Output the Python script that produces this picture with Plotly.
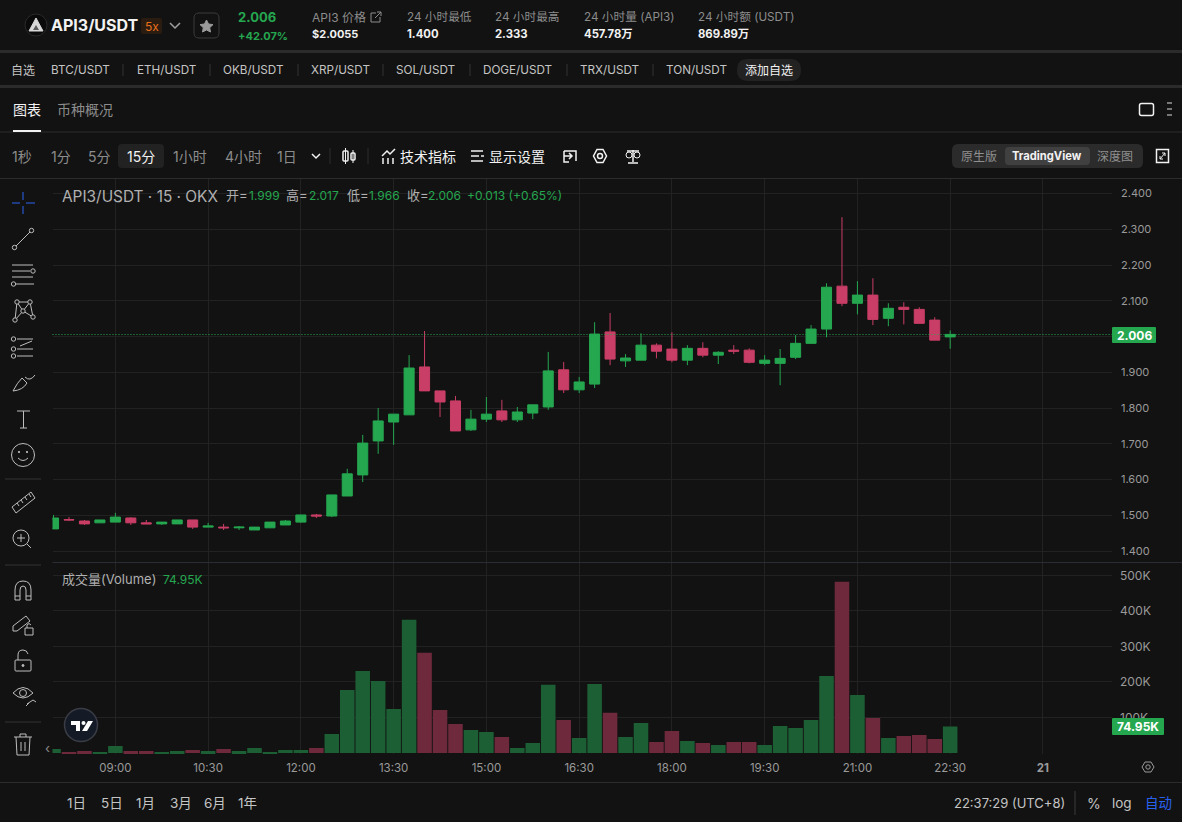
# -*- coding: utf-8 -*-
import pandas as pd
import plotly.graph_objects as go
import plotly.subplots as sp

# --- data ---
times = pd.date_range("2025-01-20 08:00", periods=59, freq="15min")
open_ = [1.462, 1.488, 1.484, 1.479, 1.481, 1.4925, 1.479, 1.476, 1.476, 1.487,
         1.467, 1.467, 1.465, 1.459, 1.465, 1.473, 1.481, 1.501, 1.498, 1.554,
         1.613, 1.708, 1.761, 1.781, 1.915, 1.848, 1.820, 1.739, 1.769, 1.792,
         1.767, 1.786, 1.803, 1.907, 1.851, 1.867, 2.013, 1.932, 1.934, 1.976,
         1.965, 1.934, 1.967, 1.948, 1.962, 1.962, 1.925, 1.925, 1.942, 1.981,
         2.021, 2.141, 2.093, 2.116, 2.051, 2.082, 2.076, 2.046, 1.999]
high = [1.501, 1.495, 1.487, 1.487, 1.507, 1.495, 1.487, 1.481, 1.487, 1.487,
        1.479, 1.476, 1.470, 1.467, 1.481, 1.487, 1.501, 1.504, 1.557, 1.630,
        1.725, 1.800, 1.783, 1.948, 2.0155, 1.848, 1.834, 1.795, 1.831, 1.823,
        1.803, 1.809, 1.957, 1.929, 1.887, 2.040, 2.066, 1.951, 2.009, 1.981,
        2.012, 1.976, 1.984, 1.959, 1.976, 1.967, 1.948, 1.965, 2.004, 2.032,
        2.149, 2.334, 2.155, 2.163, 2.093, 2.096, 2.082, 2.054, 2.017]
low = [1.462, 1.484, 1.473, 1.479, 1.481, 1.473, 1.476, 1.473, 1.476, 1.462,
       1.467, 1.459, 1.459, 1.459, 1.465, 1.473, 1.479, 1.4925, 1.495, 1.554,
       1.593, 1.672, 1.697, 1.781, 1.848, 1.775, 1.736, 1.736, 1.761, 1.761,
       1.761, 1.769, 1.795, 1.842, 1.842, 1.856, 1.920, 1.915, 1.934, 1.939,
       1.928, 1.920, 1.942, 1.923, 1.951, 1.925, 1.920, 1.864, 1.937, 1.981,
       1.998, 2.085, 2.062, 2.032, 2.029, 2.034, 2.037, 1.990, 1.966]
close = [1.4925, 1.487, 1.476, 1.487, 1.495, 1.479, 1.476, 1.481, 1.487, 1.467,
         1.470, 1.465, 1.467, 1.467, 1.481, 1.484, 1.501, 1.498, 1.557, 1.616,
         1.702, 1.764, 1.783, 1.912, 1.848, 1.817, 1.736, 1.769, 1.783, 1.767,
         1.789, 1.809, 1.904, 1.851, 1.873, 2.007, 1.937, 1.940, 1.976, 1.959,
         1.934, 1.967, 1.948, 1.956, 1.959, 1.928, 1.934, 1.939, 1.981, 2.021,
         2.138, 2.093, 2.116, 2.048, 2.079, 2.076, 2.037, 1.990, 2.006]
volume = [11, 3, 5.6, 3, 20, 5.6, 5.6, 3, 5.6, 8.5,
          5.6, 11, 5.6, 14, 3, 8.5, 8.5, 14, 53.5, 177.5,
          231, 203, 124, 375, 282, 121, 82, 65, 59, 45,
          14, 28, 192, 93, 42, 194.4, 113, 45, 84.5, 31,
          62, 34, 28, 22.6, 31, 31, 22.6, 76, 70.4, 93,
          217, 482, 163.4, 98.6, 42, 48, 51, 39.5, 74.95]

price_ticks = [1.4, 1.5, 1.6, 1.7, 1.8, 1.9, 2.0, 2.1, 2.2, 2.3, 2.4]
vol_ticks = [100, 200, 300, 400, 500]
vol_labels = ["100K", "200K", "300K", "400K", "500K"]
time_ticks = ["2025-01-20 09:00", "2025-01-20 10:30", "2025-01-20 12:00", "2025-01-20 13:30",
              "2025-01-20 15:00", "2025-01-20 16:30", "2025-01-20 18:00", "2025-01-20 19:30",
              "2025-01-20 21:00", "2025-01-20 22:30", "2025-01-21 00:00"]
time_labels = ["09:00", "10:30", "12:00", "13:30", "15:00", "16:30", "18:00", "19:30",
               "21:00", "22:30", "<b>21</b>"]

# colours
bg = "#121212"
grid = "#222222"
up = "#25a750"
down = "#c93e66"
vol_up = "#1c5f34"
vol_down = "#6e293c"
grey = "#8c8c8c"
light = "#c4c4c4"
white = "#f2f2f2"
icon = "#bdbdbd"
blue = "#2a62f0"
band = "#2b2b2b"
font_family = "Inter, 'Noto Sans CJK SC', sans-serif"

W, H = 1182, 822
PLOT_L, PLOT_R = 52.5, 1112
PRICE_TOP, PRICE_BOTTOM = 179, 562
VOL_TOP, VOL_BOTTOM = 563, 754

fig = sp.make_subplots(rows=2, cols=1, shared_xaxes=True)

fig.add_trace(
    go.Candlestick(
        x=times, open=open_, high=high, low=low, close=close,
        increasing=dict(line=dict(color=up, width=1), fillcolor=up),
        decreasing=dict(line=dict(color=down, width=1), fillcolor=down),
        whiskerwidth=0,
        showlegend=False,
    ),
    row=1, col=1,
)
fig.add_trace(
    go.Bar(
        x=times, y=volume,
        marker_color=[vol_up if c >= o else vol_down for o, c in zip(open_, close)],
        marker_line_width=0,
        showlegend=False,
    ),
    row=2, col=1,
)
# full page axis for the app chrome, in screenshot pixels
fig.add_trace(go.Scatter(x=[0], y=[0], mode="none", xaxis="x3", yaxis="y3",
                         showlegend=False, hoverinfo="skip"))

x_range = ["2025-01-20 07:59:00", "2025-01-21 01:07:00"]
for r in (1, 2):
    fig.update_xaxes(
        range=x_range, tickvals=time_ticks, ticktext=time_labels,
        showgrid=True, gridcolor=grid, gridwidth=1, zeroline=False, showline=False,
        ticks="", rangeslider_visible=False, fixedrange=True,
        domain=[PLOT_L / W, PLOT_R / W],
        tickfont=dict(size=11.5, color="#9a9a9a"), ticklabelstandoff=5,
        showticklabels=(r == 2),
        row=r, col=1,
    )

fig.update_yaxes(
    side="right", range=[1.3694, 2.4407], tickvals=price_ticks, tickformat=".3f",
    showgrid=True, gridcolor=grid, zeroline=False, ticks="", fixedrange=True,
    domain=[1 - PRICE_BOTTOM / H, 1 - PRICE_TOP / H],
    tickfont=dict(size=11, color="#9a9a9a"), ticklabelstandoff=8,
    row=1, col=1,
)
fig.update_yaxes(
    side="right", range=[-2.8, 535], tickvals=vol_ticks, ticktext=vol_labels,
    showgrid=True, gridcolor=grid, zeroline=False, ticks="", fixedrange=True,
    domain=[1 - VOL_BOTTOM / H, 1 - VOL_TOP / H],
    tickfont=dict(size=12, color="#9a9a9a"), ticklabelstandoff=7,
    row=2, col=1,
)

fig.update_layout(
    width=W, height=H,
    margin=dict(l=0, r=0, t=0, b=0),
    paper_bgcolor=bg, plot_bgcolor="rgba(0,0,0,0)",
    font=dict(family=font_family, size=12, color=grey),
    bargap=0.06, boxgap=0.35, boxgroupgap=0,
    hovermode=False, showlegend=False,
    xaxis3=dict(domain=[0, 1], range=[0, W], visible=False, fixedrange=True, anchor="y3"),
    yaxis3=dict(domain=[0, 1], range=[H, 0], visible=False, fixedrange=True, anchor="x3"),
)


# --- chrome helpers ---
def txt(x, y, text, size=12, color=grey, anchor="left", bold=False):
    fig.add_annotation(
        x=x - 1 if anchor == "left" else x, y=y, xref="x3", yref="y3",
        text=f"<b>{text}</b>" if bold else text,
        showarrow=False, xanchor=anchor, yanchor="middle", borderpad=0,
        font=dict(size=size, color=color, family=font_family),
    )


def line(x0, y0, x1, y1, color=icon, width=1, dash=None):
    fig.add_shape(type="line", x0=x0, y0=y0, x1=x1, y1=y1, xref="x3", yref="y3",
                  line=dict(color=color, width=width, dash=dash))


def rect(x0, y0, x1, y1, fill=None, color=None, width=1, r=0):
    d = (f"M{x0 + r},{y0} L{x1 - r},{y0} Q{x1},{y0} {x1},{y0 + r} L{x1},{y1 - r} Q{x1},{y1} {x1 - r},{y1} "
         f"L{x0 + r},{y1} Q{x0},{y1} {x0},{y1 - r} L{x0},{y0 + r} Q{x0},{y0} {x0 + r},{y0} Z")
    fig.add_shape(type="path", path=d, xref="x3", yref="y3", fillcolor=fill or "rgba(0,0,0,0)",
                  line=dict(color=color or "rgba(0,0,0,0)", width=width if color else 0))


def circ(cx, cy, r, color=icon, fill=None, width=1):
    fig.add_shape(type="circle", x0=cx - r, y0=cy - r, x1=cx + r, y1=cy + r, xref="x3", yref="y3",
                  fillcolor=fill or "rgba(0,0,0,0)", line=dict(color=color, width=width))


def path(d, color=icon, width=1, fill=None):
    fig.add_shape(type="path", path=d, xref="x3", yref="y3", fillcolor=fill or "rgba(0,0,0,0)",
                  line=dict(color=color, width=width))


# --- top bar ---
circ(36, 25, 11, color="#2a2a2a", fill="#0a0a0a")
path("M36,18 L43,31 L29,31 Z", color="#d8d8d8", fill="#d8d8d8")
path("M36,25 L39,30 L33,30 Z", color="#5a5a5a", fill="#5a5a5a", width=0)
txt(51, 25, "API3/USDT", size=16, color=white, bold=True)
rect(141, 18, 162, 34, fill="#2a1c10", r=2)
txt(151.5, 26, "5x", size=12, color="#e8701a", anchor="center")
path("M170,23 L175,28 L180,23", color="#a0a0a0", width=1.5)
rect(194, 13, 219, 38, color="#3a3a3a", r=5)
path("M206.5,20 L208.5,24 L213,24.6 L209.7,27.7 L210.5,32 L206.5,30 L202.5,32 L203.3,27.7 L200,24.6 L204.5,24 Z",
     color="#9a9a9a", fill="#9a9a9a")
txt(238, 17, "2.006", size=13, color=up, bold=True)
txt(238, 36, "+42.07%", size=11, color=up, bold=True)
txt(312, 17, "API3 价格", size=12, color=grey)
path("M376,13 L371,13 L371,22 L380,22 L380,17 M375,18 L381,12 M377,12 L381,12 L381,16", color=grey)
txt(312, 34, "$2.0055", size=11, color=white, bold=True)
for x, head, val in [(407, "24 小时最低", "1.400"), (495, "24 小时最高", "2.333"),
                     (584, "24 小时量 (API3)", "457.78万"), (698, "24 小时额 (USDT)", "869.89万")]:
    txt(x, 17, head, size=11.7, color=grey)
    txt(x, 34, val, size=11.3, color=white, bold=True)
rect(0, 50, W, 53, fill=band)

# --- watchlist row ---
txt(11, 70, "自选", size=12, color=light)
for x, name in [(51, "BTC/USDT"), (137, "ETH/USDT"), (223, "OKB/USDT"), (311, "XRP/USDT"),
                (396, "SOL/USDT"), (483, "DOGE/USDT"), (580, "TRX/USDT"), (666, "TON/USDT")]:
    txt(x, 70, name, size=11.7, color=light)
for x in [123, 210, 298, 383, 470, 567, 653]:
    line(x, 64, x, 76, color="#333333")
rect(737, 59, 801, 81, fill="#222222", r=11)
txt(769, 70, "添加自选", size=12, color=white, anchor="center")
rect(0, 85, W, 88, fill=band)

# --- tabs ---
txt(13, 109, "图表", size=14, color=white)
txt(57, 109, "币种概况", size=14, color=grey)
line(0, 132, W, 132, color="#2c2c2c")
rect(13, 130, 41, 132, fill=white)
rect(1139.5, 103.5, 1153.5, 115.5, color=white, width=1.5, r=2)
for y in [103, 109, 115]:
    rect(1167, y - 1, 1172, y + 1, fill="#777777")

# --- interval row ---
rect(118, 144, 164, 168, fill="#222222", r=4)
for x, label, color in [(12, "1秒", grey), (51, "1分", grey), (88, "5分", grey), (127, "15分", white),
                        (173, "1小时", grey), (225, "4小时", grey), (277, "1日", grey)]:
    txt(x, 156, label, size=14, color=color)
path("M312,154 L316,158 L320,154", color=white, width=1.5)
line(330, 148, 330, 164, color="#2c2c2c")
rect(343, 151, 348, 161, color=white, width=1.5, r=1)
line(345.5, 148, 345.5, 164, color=white)
rect(351, 153, 355, 160, color=white, width=1.5, r=1)
line(353, 150, 353, 163, color=white)
line(368, 148, 368, 164, color="#2c2c2c")
path("M382,156 L387,151 L390,154 L395,149", color=white, width=1.5)
for x in [383, 388, 393]:
    line(x, 164, x, 158, color=white, width=1.5)
txt(400, 156, "技术指标", size=14, color=white)
for y, x1 in [(151, 483), (156, 479), (161, 483)]:
    line(471, y, x1, y, color=white, width=1.5)
line(481, 156, 484, 156, color=white, width=1.5)
txt(489, 156, "显示设置", size=14, color=white)
path("M564,151 L576,151 L576,161 M564,151 L564,156 L572,156 M569,153 L572,156 L569,159 M564,156 L564,162 L569,162",
     color=white, width=1.5)
circ(600, 156, 2.5, color=white, width=1.5)
path("M597,149.5 L603,149.5 L606.5,156 L603,162.5 L597,162.5 L593.5,156 Z", color=white, width=1.5)
line(633, 150, 633, 162, color=white, width=1.5)
line(627, 151, 639, 151, color=white, width=1.5)
line(628, 163, 638, 163, color=white, width=1.5)
circ(629, 155, 3, color=white)
circ(637, 155, 3, color=white)
rect(952, 144, 1143, 168, fill="#2b2b2b", r=6)
rect(1005, 147, 1090, 165, fill="#404040", r=4)
txt(979, 156, "原生版", size=12, color="#8f8f8f", anchor="center")
txt(1047, 156, "TradingView", size=11.2, color=white, anchor="center", bold=True)
txt(1115, 156, "深度图", size=12, color="#8f8f8f", anchor="center")
rect(1156.5, 149.5, 1168.5, 162.5, color=white, width=1.5)
path("M1160,159 L1165,153 M1162,153 L1165,153 L1165,156 M1160,156 L1160,159 L1163,159", color=white)
line(0, 178.5, W, 178.5, color="#2c2c2c")

# --- chart legend ---
txt(62, 196, "API3/USDT · 15 · OKX", size=15.4, color="#b0b0b0")
for x, label in [(226, "开="), (286, "高="), (347, "低="), (407, "收=")]:
    txt(x, 195, label, size=13, color="#b0b0b0")
for x, val in [(249, "1.999"), (309, "2.017"), (369, "1.966"), (428, "2.006"), (467, "+0.013 (+0.65%)")]:
    txt(x, 195, val, size=12, color=up)
txt(62, 579, "成交量(Volume)", size=13, color="#b0b0b0")
txt(163, 579, "74.95K", size=12, color=up)

# last price line and tags
line(PLOT_L, 334.5, PLOT_R, 334.5, color=up, dash="1px,2px")
line(PLOT_L, 562.5, W, 562.5, color="#2a2d33")
rect(1112, 327, 1156, 343, fill=up, r=1)
txt(1134, 335, "2.006", size=12, color="#ffffff", anchor="center", bold=True)
rect(1112, 718, 1164, 735, fill=up, r=1)
txt(1138, 726.5, "74.95K", size=12, color="#ffffff", anchor="center", bold=True)

# TradingView badge
circ(81, 725, 16.5, color="#3a3d45", fill="#141a26", width=1.5)
path("M71,721 L80,721 L80,731 L76,731 L76,725 L71,725 Z", color="#ffffff", fill="#ffffff", width=0)
circ(83.5, 723, 2, color="#ffffff", fill="#ffffff", width=0)
path("M88,721 L93,721 L87,731 L82,731 Z", color="#ffffff", fill="#ffffff", width=0)
txt(47, 748, "‹", size=13, color="#8c8c8c", anchor="center")

# --- left toolbar ---
for x0, y0, x1, y1 in [(12, 203, 20, 203), (26, 203, 35, 203), (23, 192, 23, 200), (23, 206, 23, 214)]:
    line(x0, y0, x1, y1, color=blue)
# trend line
line(16, 246, 30, 232)
circ(14.5, 247.5, 2.2)
circ(31.5, 230.5, 2.2)
# parallel lines
line(12, 265, 33, 265)
line(12, 271, 30, 271)
line(12, 277, 33, 277)
line(16, 284, 34, 284)
circ(33, 271, 2.2)
circ(13.5, 284, 2.2)
# pattern tool
path("M17,302 L23,311 L30,302 L33,317 L23,311 L15,320 Z M17,302 L30,302", color=icon)
for cx, cy in [(17, 302), (30, 302), (23, 311), (15, 320), (33, 317)]:
    circ(cx, cy, 2.2, fill=bg)
# fib
for y in [339, 349, 356]:
    line(17, y, 33, y)
    circ(13.5, y, 2.2)
path("M20,346 L32,341", color=icon)
# brush
path("M13,391 Q17,383 22,378 L27,383 Q23,390 13,391 M25,377 Q30,382 35,375", color=icon)
# text tool
line(17, 411, 30, 411)
line(23.5, 411, 23.5, 428)
line(20, 428, 27, 428)
# smiley
circ(23, 455, 11.5)
circ(19, 452, 0.7, fill=icon)
circ(27, 452, 0.7, fill=icon)
path("M18,458 Q23,463 28,458", color=icon)
line(5, 479, 41, 479, color="#333333")
# ruler
path("M12,507 L31,492 L35,498 L16,513 Z M17,503 L19,506 M21,500 L23,503 M25,497 L27,500 M29,494 L31,497", color=icon)
# zoom
circ(21, 538, 8)
line(27, 544, 31, 548)
line(17, 538, 25, 538)
line(21, 534, 21, 542)
line(5, 565, 41, 565, color="#333333")
# magnet
path("M15,600 L15,590 Q15,581 23,581 Q31,581 31,590 L31,600 L26,600 L26,590 Q26,586 23,586 Q20,586 20,590 L20,600 Z M15,596 L20,596 M26,596 L31,596",
     color=icon)
# pencil and lock
path("M13,631 L13,626 L26,616 L30,621 L17,631 Z", color=icon)
rect(25, 628, 33, 635, color=icon)
path("M27,628 L27,625 Q29,622 31,625", color=icon)
# lock
rect(15, 660, 31, 671, color=icon, r=1)
path("M18,660 L18,655 Q18,650 23,650 Q27,650 28,654", color=icon)
circ(23, 665.5, 1, fill=icon)
# eye
path("M13,693 Q23,682 33,693 Q23,703 13,693 Z", color=icon)
circ(23, 693, 3.5)
path("M27,704 L33,700 L36,702 M26,706 L29,703", color=icon)
line(5, 722, 41, 722, color="#333333")
# trash
line(14, 737, 32, 737)
path("M16,737 L17,755 L29,755 L30,737 M20,737 L20,734 L26,734 L26,737 M21,742 L21,751 M25,742 L25,751", color=icon)

# --- bottom row ---
path("M1142,767 L1145,762 L1151,762 L1154,767 L1151,772 L1145,772 Z", color="#9a9a9a")
circ(1148, 767, 2.2, color="#9a9a9a")
line(0, 782.5, W, 782.5, color="#2c2c2c")
for x, label in [(67, "1日"), (101, "5日"), (136, "1月"), (170, "3月"), (204, "6月"), (238, "1年")]:
    txt(x, 803, label, size=13.5, color=light)
txt(954, 803, "22:37:29 (UTC+8)", size=13, color=light)
line(1075, 791, 1075, 815, color="#3a3a3a")
txt(1087, 803, "%", size=14, color=light)
txt(1112, 803, "log", size=13.5, color=light)
txt(1145, 803, "自动", size=13.5, color=blue)

fig.write_html(
    "out.html",
    config={"displayModeBar": False},
    post_script="document.body.style.margin='0';document.body.style.background='#121212';document.body.style.overflow='hidden';",
)
